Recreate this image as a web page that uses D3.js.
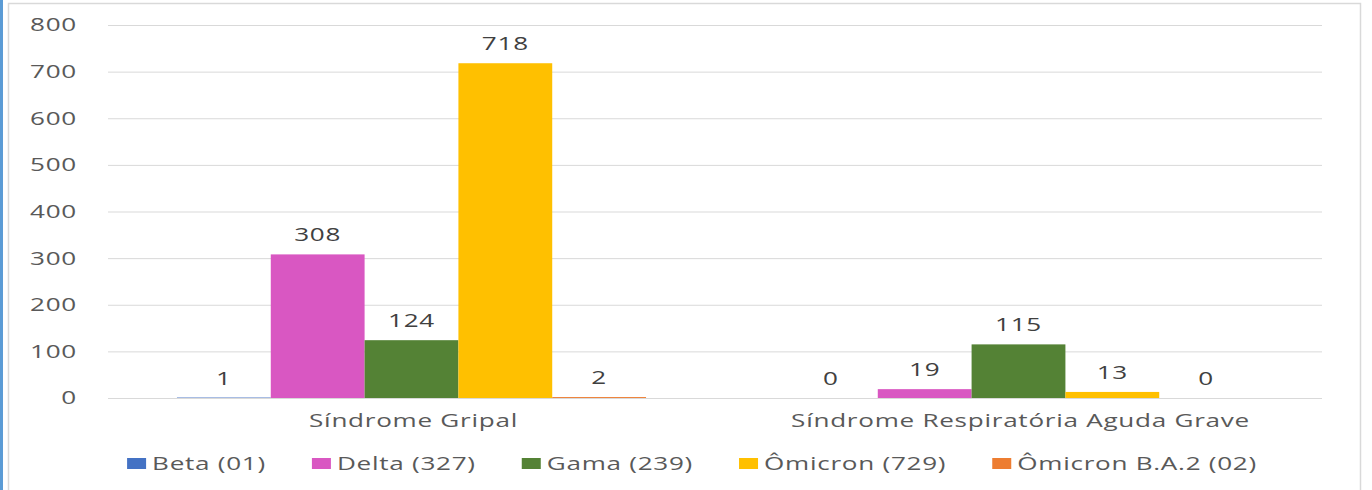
<!DOCTYPE html>
<html>
<head>
<meta charset="utf-8">
<script src="https://cdn.jsdelivr.net/npm/d3@7"></script>
<style>
  body { margin: 0; background: #fff; }
  svg text { font-family: "Open Sans", sans-serif; font-size: 18px; letter-spacing: 0.5px; }
</style>
</head>
<body>
<svg class="chart"></svg>
<script>
// data
const categories = ["Síndrome Gripal", "Síndrome Respiratória Aguda Grave"];
const seriesNames = ["Beta (01)", "Delta (327)", "Gama (239)", "Ômicron (729)", "Ômicron B.A.2 (02)"];
const seriesColors = ["#4472C4", "#D957C2", "#548235", "#FFC000", "#ED7D31"];
const gripalValues = [1, 308, 124, 718, 2];
const sragValues = [0, 19, 115, 13, 0];
const yTicks = [0, 100, 200, 300, 400, 500, 600, 700, 800];

const size = { w: 1372, h: 490 };
const margin = { t: 25, r: 50, b: 92, l: 108 };
const stretch = 1.45; // text in the picture is drawn wide

const svg = d3.select("svg.chart").attr("width", size.w).attr("height", size.h);

// frame
svg.append("rect").attr("x", 0).attr("y", 0).attr("width", 3).attr("height", size.h).attr("fill", "#5B9BD5");
svg.append("rect")
  .attr("x", 8.5).attr("y", 3.5).attr("width", 1352).attr("height", 520)
  .attr("fill", "none").attr("stroke", "#d9d9d9").attr("stroke-width", 1.5);

const table = categories.map((c, i) => ({
  cat: c,
  values: (i === 0 ? gripalValues : sragValues).map((v, j) => ({ s: j, v: v }))
}));

const xScale = d3.scaleBand().domain(categories).range([margin.l, size.w - margin.r]);
const xInner = d3.scaleBand().domain(d3.range(seriesNames.length))
  .range([0, xScale.bandwidth()]).paddingInner(0).paddingOuter(0.735);
const yScale = d3.scaleLinear().domain([0, 800]).range([398, margin.t]);

function wide(sel, x, y) {
  sel.attr("transform", (d, i) => `translate(${x(d, i)},${y(d, i)}) scale(${stretch},1)`);
}

// grid
svg.append("g").selectAll("line").data(yTicks).join("line")
  .attr("x1", margin.l).attr("x2", size.w - margin.r)
  .attr("y1", d => yScale(d) + 0.5).attr("y2", d => yScale(d) + 0.5)
  .attr("stroke", "#d9d9d9").attr("stroke-width", 1);

// y labels
svg.append("g").selectAll("text").data(yTicks).join("text")
  .attr("dy", "0.36em").attr("text-anchor", "end").attr("fill", "#595959")
  .text(d => d)
  .call(wide, () => 77, d => yScale(d));

// bars
const groups = svg.append("g").selectAll("g").data(table).join("g")
  .attr("transform", d => `translate(${xScale(d.cat)},0)`);

groups.selectAll("rect").data(d => d.values).join("rect")
  .attr("x", d => xInner(d.s))
  .attr("width", xInner.bandwidth())
  .attr("y", d => yScale(d.v))
  .attr("height", d => yScale(0) - yScale(d.v))
  .attr("fill", d => seriesColors[d.s]);

groups.selectAll("text").data(d => d.values).join("text")
  .attr("text-anchor", "middle").attr("fill", "#404040")
  .text(d => d.v)
  .call(wide, d => xInner(d.s) + xInner.bandwidth() / 2, d => yScale(d.v) - 13);

// category labels
svg.append("g").selectAll("text").data(categories).join("text")
  .attr("text-anchor", "middle").attr("fill", "#595959")
  .text(d => d)
  .call(wide, d => xScale(d) + xScale.bandwidth() / 2 + 2, () => 427);

// legend
const legend = svg.append("g");
const items = legend.selectAll("g").data(seriesNames).join("g");
items.append("rect").attr("x", 0).attr("y", 458).attr("width", 19).attr("height", 11)
  .attr("fill", (d, i) => seriesColors[i]);
items.append("text").attr("fill", "#595959")
  .text(d => d)
  .call(wide, () => 25, () => 470);

const gap = 46;
let xPos = 0;
const offsets = [];
items.each(function () {
  offsets.push(xPos);
  const w = d3.select(this).select("text").node().getComputedTextLength() * stretch;
  xPos += 25 + w + gap;
});
const total = xPos - gap;
const start = 692 - total / 2;
items.attr("transform", (d, i) => `translate(${start + offsets[i]},0)`);
</script>
</body>
</html>
